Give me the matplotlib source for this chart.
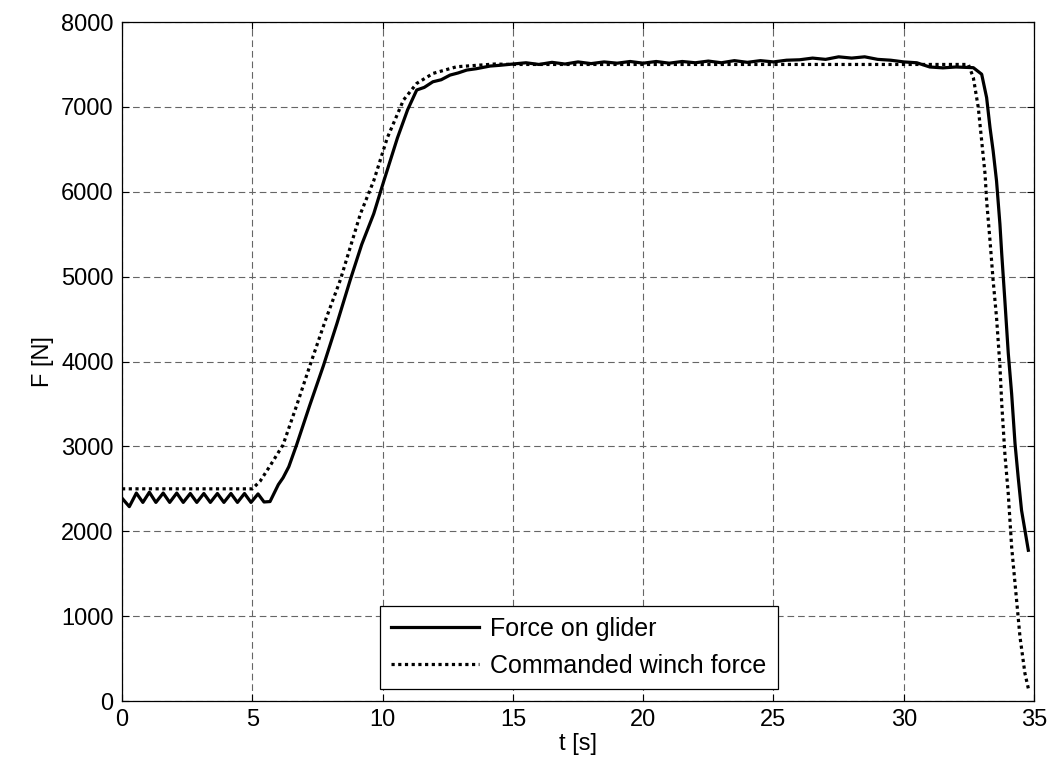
import matplotlib.pyplot as plt
import numpy as np

# Force on glider (solid)
glider_t = np.array([0.0, 0.28, 0.55, 0.8, 1.05, 1.3, 1.58, 1.83, 2.1, 2.35, 2.62, 2.87,
                     3.14, 3.39, 3.66, 3.91, 4.18, 4.43, 4.7, 4.95, 5.22, 5.45, 5.68,
                     6.0, 6.18, 6.4, 6.7, 7.2, 7.73, 8.25, 8.76, 9.2, 9.66, 10.05, 10.57,
                     10.96, 11.31, 11.6, 11.93, 12.25, 12.59, 12.9, 13.23, 13.6, 14.12,
                     14.5, 15.0, 15.5, 16.0, 16.5, 17.0, 17.5, 18.0, 18.5, 19.0, 19.5,
                     20.0, 20.5, 21.0, 21.5, 22.0, 22.5, 23.0, 23.5, 24.0, 24.5, 25.0,
                     25.5, 26.0, 26.5, 27.0, 27.5, 28.0, 28.5, 29.0, 29.5, 30.0, 30.5,
                     31.0, 31.5, 32.0, 32.67, 32.99, 33.18, 33.31, 33.43, 33.56, 33.69,
                     33.76, 33.88, 34.01, 34.14, 34.27, 34.39, 34.52, 34.65, 34.78])
glider_F = np.array([2390, 2290, 2450, 2340, 2460, 2340, 2450, 2340, 2450, 2340, 2445, 2340,
                     2445, 2340, 2445, 2340, 2445, 2340, 2445, 2340, 2440, 2345, 2350,
                     2550, 2630, 2760, 3018, 3480, 3952, 4450, 4963, 5380, 5741, 6130, 6635,
                     6966, 7199, 7230, 7296, 7320, 7375, 7400, 7434, 7450, 7481,
                     7490, 7505, 7520, 7500, 7525, 7505, 7530, 7510, 7530, 7515, 7535,
                     7515, 7535, 7515, 7535, 7520, 7540, 7520, 7545, 7525, 7545, 7530,
                     7550, 7555, 7575, 7560, 7590, 7575, 7590, 7560, 7550, 7530, 7520,
                     7470, 7460, 7470, 7462, 7385, 7109, 6756, 6482, 6129, 5620,
                     5267, 4718, 4100, 3620, 3032, 2639, 2247, 2012, 1776])

# Commanded winch force (dotted)
winch_t = np.array([0.0, 5.0, 5.3, 5.7, 6.18, 6.7, 7.21, 7.8, 8.38, 9.15, 9.66, 10.18,
                    10.8, 11.31, 11.94, 12.84, 14.3, 15.0, 32.48, 32.67, 32.86, 32.99,
                    33.12, 33.18, 33.31, 33.43, 33.56, 33.69, 33.76, 33.88, 34.01, 34.14,
                    34.33, 34.46, 34.65, 34.78])
winch_F = np.array([2500, 2500, 2590, 2780, 3018, 3480, 3952, 4480, 4963, 5741, 6130, 6635,
                    7080, 7277, 7395, 7473, 7505, 7500, 7500, 7345, 6992, 6600,
                    6208, 5894, 5423, 4953, 4521, 3950, 3502, 2914, 2443, 1815,
                    1188, 756, 326, 149])

plt.rcParams['font.family'] = ['Liberation Sans', 'DejaVu Sans']
plt.rcParams['font.size'] = 17

fig = plt.figure(figsize=(10.61, 7.70), dpi=100)
ax = fig.add_axes([0.115, 0.0896, 0.8596, 0.8818])

ax.plot(glider_t, glider_F, color='black', linewidth=2.3, label='Force on glider')
ax.plot(winch_t, winch_F, color='black', linewidth=2.3, linestyle=(0, (1, 1.1)),
        dash_capstyle='butt', label='Commanded winch force')

ax.set_xlim(0, 35)
ax.set_ylim(0, 8000)
ax.set_xticks(np.arange(0, 36, 5))
ax.set_yticks(np.arange(0, 8001, 1000))
ax.set_xlabel('t [s]', labelpad=1)
ax.set_ylabel('F [N]', labelpad=5)

ax.grid(True, color='#666666', linestyle=(0, (6, 3.5)), linewidth=0.8)
ax.tick_params(direction='in', top=True, right=True, length=5, width=0.8, pad=6)
for s in ax.spines.values():
    s.set_linewidth(0.9)

leg = ax.legend(loc='lower center', bbox_to_anchor=(0.501, 0.018), borderaxespad=0,
                fancybox=False, edgecolor='black', framealpha=1, fontsize=18,
                handlelength=3.5, handletextpad=0.45, labelspacing=0.5, borderpad=0.45)
leg.get_frame().set_linewidth(0.9)

fig.savefig('out.png', dpi=100)
